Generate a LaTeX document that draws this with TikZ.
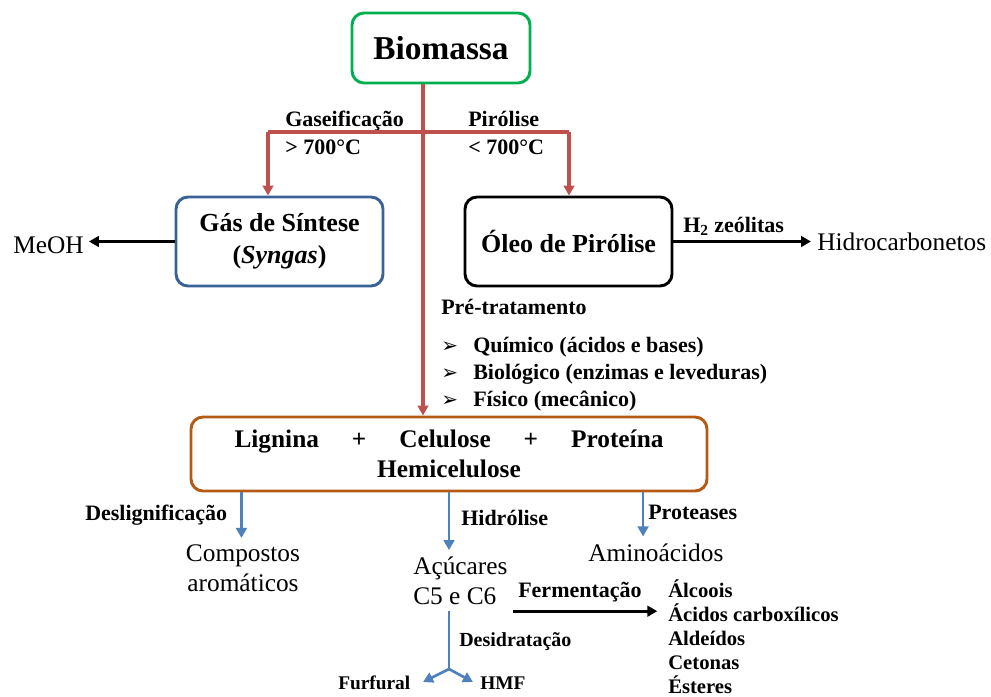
\documentclass[tikz,border=0pt]{standalone}
\usepackage{fontspec}
\setmainfont{Liberation Serif}
\newfontfamily\symfont{DejaVu Sans}
\usetikzlibrary{positioning}
\usetikzlibrary{calc}
\usetikzlibrary{arrows.meta}
\definecolor{bioGreen}{RGB}{0,176,80}
\definecolor{gasBlue}{RGB}{58,98,150}
\definecolor{ligBrown}{RGB}{180,90,20}
\definecolor{pathRed}{RGB}{192,80,77}
\definecolor{stepBlue}{RGB}{79,129,189}
\newcommand{\pbul}{\makebox[24pt][l]{\symfont\fontsize{15}{15}\selectfont ➢}}
\tikzset{>={Triangle[length=7.5pt,width=8pt]}}
\tikzset{box/.style={draw, rounded corners=9pt, line width=2.2pt, inner sep=0pt}}
\tikzset{lbl/.style={font=\fontsize{16.5}{20}\selectfont\bfseries, inner sep=0pt}}
\tikzset{txt/.style={font=\fontsize{19}{22}\selectfont, inner xsep=0pt, inner ysep=5pt}}
\tikzset{redarr/.style={draw=pathRed, line width=2.3pt, ->}}
\tikzset{redln/.style={draw=pathRed, line width=2.3pt}}
\tikzset{bluarr/.style={draw=stepBlue, line width=2pt, ->}}
\tikzset{bluln/.style={draw=stepBlue, line width=2pt}}
\tikzset{blkarr/.style={draw=black, line width=2.2pt, ->}}

\begin{document}
\begin{tikzpicture}[x=0.75pt,y=-0.75pt]
\useasboundingbox (0,0) rectangle (991,696);

% caixas principais
\node[box, draw=bioGreen, minimum width=133.5pt, minimum height=52.5pt,
  font=\fontsize{25}{30}\selectfont\bfseries] (bio) at (441,48) {Biomassa};
\node[box, draw=gasBlue, minimum width=155.25pt, minimum height=66.75pt, align=center,
  font=\fontsize{19.5}{24}\selectfont\bfseries] (gas) at (279.5,241.5) {Gás de Síntese\\(\textit{Syngas})};
\node[box, draw=black, minimum width=155.25pt, minimum height=66.75pt,
  font=\fontsize{19.5}{24}\selectfont\bfseries] (oleo) at (568.5,241.5) {Óleo de Pirólise};
\node[box, draw=ligBrown, minimum width=387pt, minimum height=55.5pt, align=center,
  font=\fontsize{19}{22.5}\selectfont\bfseries] (lig) at (449,454)
  {Lignina\hspace{1.3em}+\hspace{1.3em}Celulose\hspace{1.3em}+\hspace{1.3em}Proteína\\Hemicelulose};

% produtos
\node[txt, anchor=base west, inner xsep=3.75pt] (meoh) at (8,253) {MeOH};
\node[txt, anchor=base west, inner xsep=4.5pt] (hidro) at (811,250) {Hidrocarbonetos};
\node[txt, anchor=base, align=center] (comp) at (243,591) {Compostos\\aromáticos};
\node[txt, anchor=base west, align=left] (acu) at (413,604) {Açúcares\\C5 e C6};
\node[txt, anchor=base west] (amino) at (588,561) {Aminoácidos};
\node[lbl, anchor=base west, align=left, font=\fontsize{15.5}{18}\selectfont\bfseries] (ferm) at (668,693)
  {Álcoois\\Ácidos carboxílicos\\Aldeídos\\Cetonas\\Ésteres};
\node[lbl, anchor=base west, font=\fontsize{14.5}{18}\selectfont\bfseries] (furf) at (338,689) {Furfural};
\node[lbl, anchor=base west, font=\fontsize{14.5}{18}\selectfont\bfseries] (hmf) at (480,689) {HMF};

% rotulos
\node[lbl, anchor=base west] (gasif) at (285,126) {Gaseificação};
\node[lbl, anchor=base west] (tgas) at (285,154) {> 700°C};
\node[lbl, anchor=base west] (piro) at (468,126) {Pirólise};
\node[lbl, anchor=base west] (tpiro) at (468,154) {< 700°C};
\node[lbl, anchor=base west] (h2) at (683,232) {H\textsubscript{2} zeólitas};
\node[lbl, anchor=base west] (pret) at (441,314) {Pré-tratamento};
\node[lbl, anchor=base west, align=left, font=\fontsize{16.5}{20.25}\selectfont\bfseries] (metodos) at (441,406)
  {\pbul Químico (ácidos e bases)\\\pbul Biológico (enzimas e leveduras)\\\pbul Físico (mecânico)};
\node[lbl, anchor=base west] (deslig) at (85,520) {Deslignificação};
\node[lbl, anchor=base west] (hidrol) at (461,525) {Hidrólise};
\node[lbl, anchor=base west] (protea) at (648,519) {Proteases};
\node[lbl, anchor=base west] (ferml) at (518,597) {Fermentação};
\node[lbl, anchor=base west, font=\fontsize{15}{18}\selectfont\bfseries] (desid) at (459,646) {Desidratação};

% ramos termicos
\coordinate (split) at (423,132);
\coordinate (gasi) at (268,132);
\coordinate (oleoi) at (569,132);
\draw[redln] (gasi) -- (oleoi);
\draw[redarr] (gasi) -- (gasi |- gas.north);
\draw[redarr] (oleoi) -- (oleoi |- oleo.north);
\draw[redarr] (bio.south -| split) -- (lig.north -| split);

\draw[blkarr] (gas.west) -- (gas.west -| meoh.east);
\draw[blkarr] (oleo.east) -- (oleo.east -| hidro.west);

% ramos do material
\coordinate (lignx) at ($(lig.south west)!0.1!(lig.south east)$);
\coordinate (protx) at ($(lig.south west)!0.874!(lig.south east)$);
\draw[bluarr] (lignx) -- (lignx |- comp.north);
\draw[bluarr] (lig.south) -- (lig.south |- acu.north);
\draw[bluarr] (protx) -- (protx |- amino.north);

\draw[blkarr, shorten >=8pt] ([xshift=3.75pt]acu.south east) -- (acu.south east -| ferm.west);

\coordinate (fork) at (449,669);
\coordinate (fl) at (423,682);
\coordinate (fr) at (473,682);
\draw[bluln] (acu.south -| fork) -- (fork);
\draw[bluarr] (fork) -- (fl);
\draw[bluarr] (fork) -- (fr);
\end{tikzpicture}
\end{document}
